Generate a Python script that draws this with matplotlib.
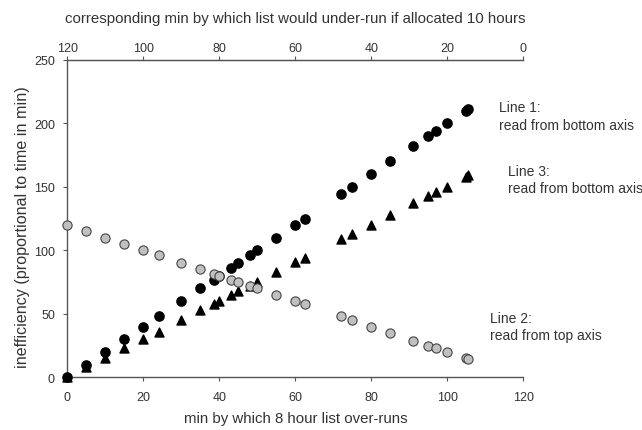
import matplotlib
matplotlib.use("Agg")
import matplotlib.pyplot as plt

plt.rcParams['font.family'] = ['Liberation Sans', 'DejaVu Sans']

line1_x = [0, 5, 10, 15, 20, 24, 30, 35, 38.5, 40, 43, 45, 48, 50, 55, 60, 62.5,
           72, 75, 80, 85, 91, 95, 97, 100, 105, 105.5]
line1_y = [0, 10, 20, 30, 40, 48, 60, 70, 77, 80, 86, 90, 96, 100, 110, 120, 125,
           144, 150, 160, 170, 182, 190, 194, 200, 210, 211]

line3_x = [0, 5, 10, 15, 20, 24, 30, 35, 38.5, 40, 43, 45, 48, 50, 55, 60, 62.5,
           72, 75, 80, 85, 91, 95, 97, 100, 105, 105.5]
line3_y = [0, 8, 15, 23, 30, 36, 45, 53, 58, 60, 65, 68, 72, 75, 83, 91, 94,
           109, 113, 120, 128, 137, 143, 146, 150, 158, 159]

line2_x = [0, 5, 10, 15, 20, 24, 30, 35, 38.5, 40, 43, 45, 48, 50, 55, 60, 62.5,
           72, 75, 80, 85, 91, 95, 97, 100, 105, 105.5]
line2_y = [120, 115, 110, 105, 100, 96, 90, 85, 81.5, 80, 77, 75, 72, 70, 65, 60, 57.5,
           48, 45, 40, 35, 29, 25, 23, 20, 15, 14.5]

bottom_ticks = [0, 20, 40, 60, 80, 100, 120]
top_tick_labels = ['120', '100', '80', '60', '40', '20', '0']
y_ticks = [0, 50, 100, 150, 200, 250]

fig = plt.figure(figsize=(6.42, 4.31), dpi=100)
ax = fig.add_axes([0.105, 0.122, 0.710, 0.737])

spine_c = '#555555'
txt_c = '#333333'

ax.scatter(line1_x, line1_y, s=44, marker='o', color='black', zorder=3, clip_on=False)
ax.scatter(line3_x, line3_y, s=42, marker='^', color='black', zorder=3, clip_on=False)
ax.scatter(line2_x, line2_y, s=44, marker='o', facecolor='#c0c0c0', edgecolor='#444444',
           linewidths=0.8, zorder=4, clip_on=False)

ax.set_xlim(0, 120)
ax.set_ylim(0, 250)
ax.set_xticks(bottom_ticks)
ax.set_xticklabels([str(t) for t in bottom_ticks])
ax.set_yticks(y_ticks)

for side in ['left', 'bottom', 'top']:
    ax.spines[side].set_color(spine_c)
    ax.spines[side].set_linewidth(1.0)
ax.spines['right'].set_visible(False)

ax.tick_params(axis='x', direction='out', length=3, width=0.8, color=spine_c,
               labelsize=9, labelcolor=txt_c, pad=6.5)
ax.tick_params(axis='y', direction='out', length=3, width=0.8, color=spine_c,
               labelsize=9, labelcolor=txt_c, pad=6)

ax.set_xlabel('min by which 8 hour list over-runs', fontsize=10.8, color=txt_c, labelpad=6)
ax.set_ylabel('inefficiency (proportional to time in min)', fontsize=11.6, color=txt_c)
ax.yaxis.set_label_coords(-0.082, 0.475)

top = ax.secondary_xaxis('top')
top.set_xticks(bottom_ticks)
top.set_xticklabels(top_tick_labels)
top.tick_params(direction='out', length=3, width=0.8, color=spine_c,
                labelsize=9, labelcolor=txt_c, pad=1.5)
top.spines['top'].set_color(spine_c)
top.set_xlabel('corresponding min by which list would under-run if allocated 10 hours',
               fontsize=10.8, color=txt_c, labelpad=14)

ax.text(113.5, 205.7, 'Line 1:\nread from bottom axis', fontsize=10, color=txt_c,
        va='center', ha='left', linespacing=1.3, clip_on=False)
ax.text(116.0, 155.5, 'Line 3:\nread from bottom axis', fontsize=10, color=txt_c,
        va='center', ha='left', linespacing=1.3, clip_on=False)
ax.text(111.3, 40.3, 'Line 2:\nread from top axis', fontsize=10, color=txt_c,
        va='center', ha='left', linespacing=1.3, clip_on=False)

fig.savefig('out.png', dpi=100, facecolor='white')
